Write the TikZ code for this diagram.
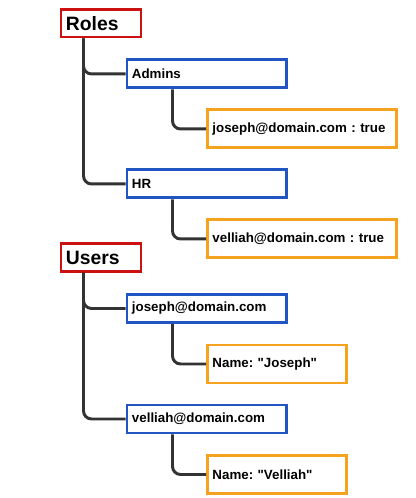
\documentclass[tikz,border=0pt]{standalone}
\usepackage{fontspec}
\setmainfont{Liberation Sans}[Ligatures=TeXOff]
\usepackage{xcolor}
\definecolor{rootc}{HTML}{CC1111}
\definecolor{keyc}{HTML}{2255C4}
\definecolor{valc}{HTML}{F5A21E}
\definecolor{linec}{HTML}{333333}
\usetikzlibrary{calc}
\frenchspacing
\tikzset{
  box/.style={draw,line width=2.2pt,anchor=north west,inner xsep=3.75pt,inner ysep=0pt,align=left,font=\bfseries\fontsize{10}{12}\selectfont},
  rootbox/.style={box,draw=rootc,text width=52.5pt,minimum height=20.3pt,font=\bfseries\fontsize{14.5}{16}\selectfont},
  keybox/.style={box,draw=keyc,text width=111.8pt,minimum height=21pt},
  valbox/.style={box,draw=valc,text width=#1,minimum height=28.5pt},
  conn/.style={draw=linec,line width=2.2pt,rounded corners=6pt},
}
\begin{document}
\begin{tikzpicture}[x=0.75pt,y=-0.75pt]
\useasboundingbox (0,0) rectangle (415,498);
% Roles
\node[rootbox] (roles) at (59.5,8.5) {Roles};
\node[keybox] (admins) at (125.5,58.5) {Admins};
\node[valbox=134.3pt] (jtrue) at (206,108.5) {joseph@domain.com : true};
\node[keybox] (hr) at (125.5,168.5) {HR};
\node[valbox=134.3pt] (vtrue) at (206,218.5) {velliah@domain.com : true};
\draw[conn] ($(roles.south west)+(24,0)$) |- (admins.west);
\draw[conn] ($(roles.south west)+(24,0)$) |- (hr.west);
\draw[conn] ($(admins.south west)+(47,0)$) |- (jtrue.west);
\draw[conn] ($(hr.south west)+(47,0)$) |- (vtrue.west);
% Users
\node[rootbox] (users) at (59.5,242.5) {Users};
\node[keybox] (joseph) at (125.5,293) {joseph@domain.com};
\node[valbox=96.8pt] (jname) at (206,343.5) {Name: "Joseph"};
\node[keybox] (velliah) at (125.5,403.5) {velliah@domain.com};
\node[valbox=96.8pt] (vname) at (206,454) {Name: "Velliah"};
\draw[conn] ($(users.south west)+(24,0)$) |- (joseph.west);
\draw[conn] ($(users.south west)+(24,0)$) |- (velliah.west);
\draw[conn] ($(joseph.south west)+(47,0)$) |- (jname.west);
\draw[conn] ($(velliah.south west)+(47,0)$) |- (vname.west);
\end{tikzpicture}
\end{document}
